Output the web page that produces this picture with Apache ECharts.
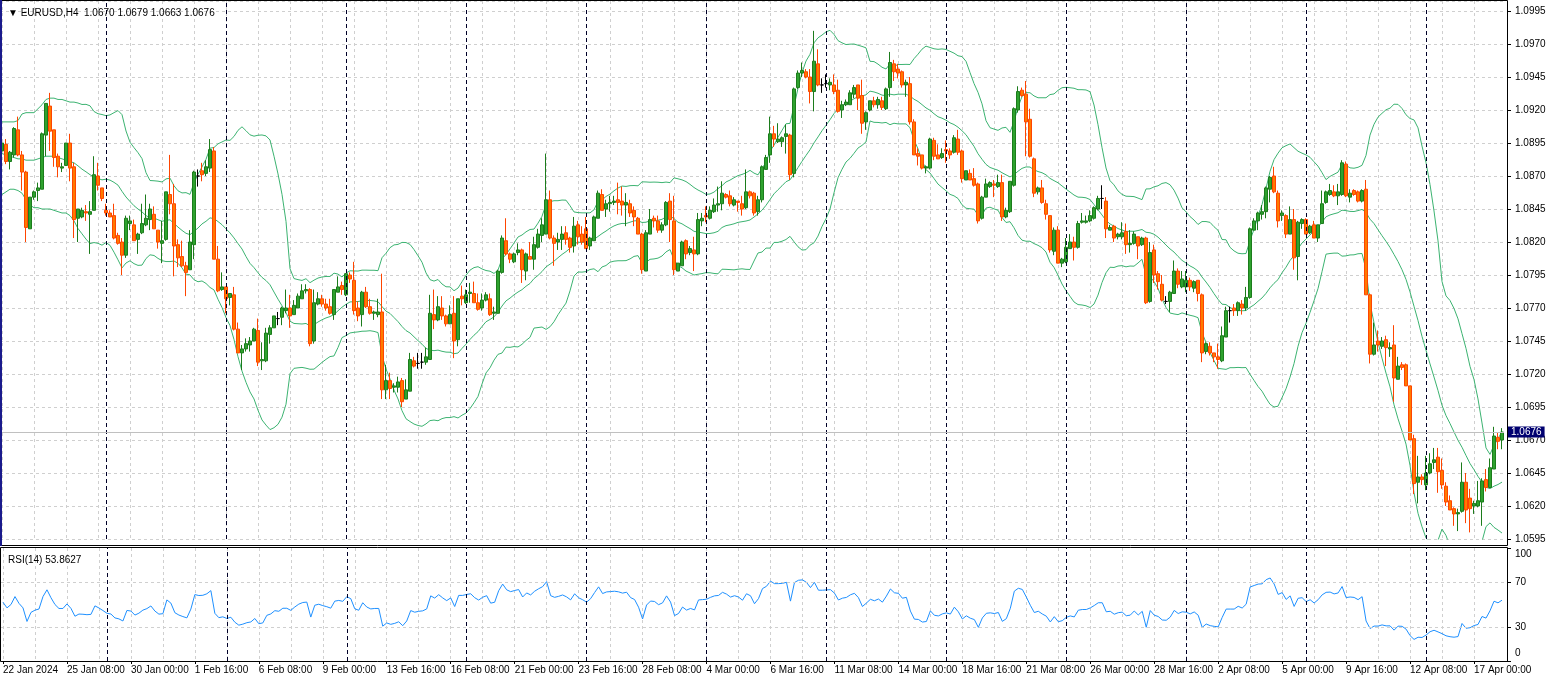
<!DOCTYPE html>
<html>
<head>
<meta charset="utf-8">
<title>EURUSD,H4</title>
<script src="https://cdn.jsdelivr.net/npm/echarts@6/dist/echarts.min.js"></script>
<style>
html, body { margin: 0; padding: 0; background: #fff; }
#main { width: 1552px; height: 680px; }
</style>
</head>
<body>
<div id="main"></div>
<script>
// H4 bars, one row per bar: [open, high, low, close] in pips above 1.0000
var ohlc = [
 [889,899,885,895],[894,898,879,881],[881,889,875,888],[886,907,884,906],[905,915,885,886],[886,889,859,873],[873,874,820,831],[830,854,830,854],
 [854,859,852,858],[859,865,851,861],[860,903,860,902],[901,925,885,925],[923,933,889,904],[905,905,877,884],[885,887,869,877],[876,880,873,877],
 [878,895,878,895],[895,902,866,876],[877,880,823,837],[838,845,820,845],[839,846,838,844],[843,848,836,842],[841,851,811,843],[844,885,844,871],
 [870,880,859,863],[861,861,851,853],[844,849,840,842],[842,844,839,839],[840,849,822,823],[825,827,818,819],[820,823,795,810],[810,840,808,838],
 [834,840,829,836],[833,837,821,821],[822,827,811,826],[827,849,826,834],[833,856,832,838],[837,849,829,845],[841,847,830,830],[829,829,815,820],
 [819,836,804,821],[822,858,821,858],[856,886,841,849],[849,864,794,817],[818,822,801,808],[809,821,801,802],[802,805,779,797],[799,829,799,820],
 [818,874,807,873],[870,875,862,870],[874,880,866,871],[872,882,870,877],[876,898,873,890],[889,892,807,807],[807,817,782,783],[784,797,783,786],
 [786,786,766,777],[778,781,772,781],[780,786,753,754],[754,759,736,736],[736,742,723,739],[739,747,737,743],[742,748,737,745],[745,755,745,754],
 [753,762,726,729],[730,744,723,731],[730,755,729,751],[750,757,743,755],[755,764,755,764],[762,767,757,762],[763,771,757,770],[768,784,766,770],
 [770,780,755,764],[765,776,765,772],[770,781,770,779],[777,788,777,783],[783,788,781,784],[784,785,741,743],[745,784,743,774],[773,782,772,777],
 [777,780,771,773],[773,777,768,770],[771,777,765,766],[765,784,761,784],[782,794,782,786],[787,790,780,784],[780,796,779,796],[795,797,789,792],
 [791,805,765,768],[770,775,760,764],[765,783,756,782],[782,786,770,771],[771,777,765,766],[766,768,761,767],[765,777,763,767],[767,796,701,708],
 [708,727,701,715],[715,721,701,709],[710,713,706,711],[710,718,706,714],[715,717,695,699],[701,716,701,708],[707,736,707,731],[730,733,725,726],
 [728,736,724,728],[729,736,724,729],[729,740,727,733],[731,780,731,766],[765,784,754,761],[761,779,760,771],[770,779,761,764],[764,765,756,758],
 [758,772,758,765],[766,779,732,745],[746,777,741,777],[779,787,772,777],[774,784,773,780],[781,789,774,782],[781,790,774,774],[774,781,768,769],
 [770,781,768,776],[776,782,775,780],[777,781,764,765],[766,771,761,767],[766,799,766,798],[797,825,796,823],[821,838,810,811],[811,812,804,807],
 [805,812,804,811],[812,819,810,814],[814,815,789,799],[798,812,791,811],[809,820,807,807],[807,824,799,818],[816,830,815,826],[825,838,820,833],
 [826,887,826,852],[852,859,822,823],[823,825,802,819],[820,827,814,822],[822,832,814,826],[827,832,818,822],[823,824,812,816],[817,839,812,832],
 [833,836,818,824],[826,832,818,820],[830,839,815,815],[817,824,814,823],[821,840,821,839],[838,859,838,857],[856,860,844,844],[845,852,839,849],
 [849,855,843,850],[850,855,848,851],[852,865,841,850],[851,862,840,848],[848,857,832,850],[849,852,839,842],[844,847,832,839],[838,839,826,826],
 [826,827,796,799],[798,829,798,827],[826,845,826,837],[838,840,831,836],[836,840,827,829],[829,835,827,833],[833,851,832,850],[851,857,820,837],
 [836,855,795,799],[798,804,798,804],[802,821,802,820],[821,822,807,811],[812,817,810,815],[814,824,798,811],[811,842,810,837],[836,842,832,838],
 [840,847,835,839],[838,847,837,844],[843,853,842,848],[848,862,843,849],[849,866,844,857],[856,857,853,854],[855,859,847,849],[848,854,847,852],
 [851,851,843,850],[849,855,840,845],[846,875,845,858],[858,859,853,855],[857,858,840,842],[843,855,840,852],[852,878,850,877],[875,886,875,884],
 [886,915,880,902],[902,908,892,898],[896,910,895,898],[896,900,892,899],[900,909,887,902],[901,902,867,871],[872,937,869,936],[937,950,936,948],
 [948,956,945,950],[949,951,944,945],[945,951,925,934],[934,980,919,957],[955,966,938,939],[939,944,933,939],[940,947,937,940],[939,944,935,941],
 [939,947,932,934],[935,943,918,919],[920,927,914,924],[924,928,923,926],[924,935,924,933],[932,939,929,937],[939,939,920,929],[931,943,902,910],
 [911,919,905,918],[920,927,919,927],[927,930,922,924],[924,930,921,928],[927,930,920,922],[921,937,920,936],[937,964,930,956],[955,958,942,949],
 [951,955,944,948],[949,950,937,939],[939,943,930,941],[940,945,909,911],[911,913,886,886],[887,891,878,885],[886,886,875,876],[876,878,872,877],
 [876,899,875,898],[897,899,882,885],[886,894,883,883],[884,891,883,887],[890,897,880,889],[889,891,883,886],[888,901,887,899],[898,905,886,888],
 [889,890,865,868],[867,874,867,874],[872,875,867,867],[868,876,862,863],[864,865,834,836],[838,855,837,854],[854,868,854,864],[862,866,861,865],
 [864,867,854,863],[862,871,861,865],[865,871,836,839],[839,846,838,844],[843,866,842,866],[863,922,862,921],[920,938,918,934],[935,937,930,931],
 [932,942,885,911],[913,921,884,885],[883,884,854,857],[858,862,856,861],[861,867,849,850],[849,852,837,841],[840,840,812,814],[813,831,810,829],
 [829,832,804,804],[804,808,801,807],[805,823,804,816],[815,826,815,820],[820,824,806,816],[816,836,815,834],[835,842,834,836],[835,840,834,836],
 [836,844,835,840],[838,847,837,846],[845,855,844,853],[853,863,845,853],[851,854,823,830],[829,833,829,831],[832,833,820,823],[824,827,822,826],
 [824,835,822,827],[828,834,811,818],[818,829,812,819],[819,828,818,826],[824,824,807,817],[818,824,817,823],[823,824,773,774],[775,820,774,812],
 [814,818,789,795],[796,798,784,790],[788,795,775,776],[775,779,773,775],[775,783,767,782],[781,806,781,798],[798,800,785,788],[786,798,785,792],
 [786,798,782,791],[791,793,783,786],[785,791,782,790],[791,791,775,781],[780,781,729,736],[737,744,735,743],[741,744,734,736],[736,736,729,733],
 [733,743,724,731],[730,756,729,749],[748,771,748,768],[768,771,759,768],[770,773,764,768],[768,775,764,774],[773,776,765,770],[770,786,768,778],
 [778,831,777,830],[829,838,829,836],[836,843,829,842],[841,848,837,843],[843,862,838,861],[860,870,850,869],[870,877,857,858],[857,859,831,836],
 [840,844,836,842],[840,841,823,826],[826,847,826,837],[837,845,799,808],[809,836,791,835],[834,838,830,837],[837,838,826,826],[827,833,826,832],
 [833,836,823,823],[823,833,820,833],[834,859,834,849],[850,859,849,858],[856,864,855,859],[858,863,854,855],[855,864,848,858],[856,882,855,880],
 [879,881,854,855],[854,860,850,857],[859,860,855,856],[858,859,850,851],[851,860,850,859],[860,867,780,780],[780,781,728,735],[735,759,734,742],
 [745,753,737,742],[741,748,739,745],[746,749,726,740],[739,744,733,740],[742,757,699,717],[716,733,716,726],[727,729,723,725],[727,728,711,711],
 [711,711,670,670],[671,674,629,637],[638,658,622,642],[642,644,636,640],[636,658,632,645],[645,660,644,652],[653,664,648,655],[657,664,630,646],
 [647,656,633,636],[635,638,620,623],[624,628,617,617],[618,619,605,614],[614,618,601,615],[616,653,615,638],[638,645,607,617],[626,633,600,618],
 [620,624,614,622],[620,639,619,624],[623,641,605,639],[640,648,631,634],[634,656,634,649],[648,680,648,673],[672,676,663,669],[670,679,663,676]
];

// Bollinger(20,2) for the first 19 bars (their history is off the picture), pips above 1.0000
var bbUpperHead = [911,911,911,911,912,917,918,918,918,921,924,928,929,929,928,928,927,926,926];
var bbMidHead   = [887,886,885,884,883,883,882,882,882,883,884,885,885,885,884,883,882,881,880];
var bbLowerHead = [856,858,860,860,859,857,852,848,846,846,845,845,845,844,843,842,842,840,836];

// RSI(14) for the first 14 bars
var rsiHead = [52,47,50,57,51,47,35,43,45,46,57,63,56,50];
var rsiLevels = [30, 70];
var rsiTicks = [0, 30, 70, 100];

// time scale: one label every 16 bars, week separators on Monday 00:00 bars
var timeLabels = ['22 Jan 2024','25 Jan 08:00','30 Jan 00:00','1 Feb 16:00','6 Feb 08:00','9 Feb 00:00',
  '13 Feb 16:00','16 Feb 08:00','21 Feb 00:00','23 Feb 16:00','28 Feb 08:00','4 Mar 00:00','6 Mar 16:00',
  '11 Mar 08:00','14 Mar 00:00','18 Mar 16:00','21 Mar 08:00','26 Mar 00:00','28 Mar 16:00','2 Apr 08:00',
  '5 Apr 00:00','9 Apr 16:00','12 Apr 08:00','17 Apr 00:00'];
var labelStep = 16;
var gridStep = 8;
var weekStarts = [26,56,86,116,146,176,206,236,266,296,326,356];

var header = '\u25BC EURUSD,H4  1.0670 1.0679 1.0663 1.0676';
var rsiHeader = 'RSI(14) 53.8627';
var bidPrice = 1.0676;

function px(p) { return +(1 + p / 10000).toFixed(4); }

var cats = ohlc.map(function (r, i) { return String(i); });
var candles = ohlc.map(function (r) { return [px(r[0]), px(r[3]), px(r[2]), px(r[1])]; });
var closes = ohlc.map(function (r) { return px(r[3]); });

// Bollinger bands from the closes (period 20, deviation 2)
var bbUp = [], bbMid = [], bbLo = [];
closes.forEach(function (c, i) {
    if (i < 19) {
        bbUp.push(px(bbUpperHead[i])); bbMid.push(px(bbMidHead[i])); bbLo.push(px(bbLowerHead[i]));
        return;
    }
    var w = closes.slice(i - 19, i + 1);
    var m = w.reduce(function (a, b) { return a + b; }, 0) / 20;
    var sd = Math.sqrt(w.reduce(function (a, b) { return a + (b - m) * (b - m); }, 0) / 20);
    bbMid.push(+m.toFixed(5)); bbUp.push(+(m + 2 * sd).toFixed(5)); bbLo.push(+(m - 2 * sd).toFixed(5));
});

// RSI(14) from the closes, Wilder smoothing
var rsi = rsiHead.slice();
var ag = 0, al = 0;
for (var i = 1; i <= 14; i++) {
    var d = closes[i] - closes[i - 1];
    ag += Math.max(d, 0); al += Math.max(-d, 0);
}
ag /= 14; al /= 14;
rsi.push(+(100 - 100 / (1 + ag / al)).toFixed(2));
for (var i = 15; i < closes.length; i++) {
    var d = closes[i] - closes[i - 1];
    ag = (ag * 13 + Math.max(d, 0)) / 14;
    al = (al * 13 + Math.max(-d, 0)) / 14;
    rsi.push(+(100 - 100 / (1 + ag / al)).toFixed(2));
}

var FONT = "'Liberation Sans', Arial, sans-serif";
var gridLine = { color: '#cfcfcf', type: [3, 3], width: 1 };
var sepLine = { color: '#000028', type: [4, 3], width: 1 };
var weekMarks = weekStarts.map(function (w) { return { xAxis: String(w), lineStyle: sepLine }; });

var myChart = echarts.init(document.getElementById('main'));
var option = {
    animation: false,
    backgroundColor: '#ffffff',
    textStyle: { fontFamily: FONT },
    title: [
        { text: header, left: 3, top: 3, textStyle: { fontSize: 10, fontWeight: 'normal', color: '#000', fontFamily: FONT } },
        { text: rsiHeader, left: 3, top: 550, textStyle: { fontSize: 10, fontWeight: 'normal', color: '#000', fontFamily: FONT } }
    ],
    grid: [
        { left: 0, top: 1, width: 1504, height: 538 },
        { left: 0, top: 548, width: 1504, height: 113 }
    ],
    xAxis: [
        {
            type: 'category', gridIndex: 0, data: cats, boundaryGap: true,
            axisLine: { show: false }, axisTick: { show: false }, axisLabel: { show: false },
            splitLine: { show: true, alignWithLabel: true, interval: function (i) { return i % gridStep === 0; }, lineStyle: gridLine }
        },
        {
            type: 'category', gridIndex: 1, data: cats, boundaryGap: true,
            axisLine: { show: false },
            axisTick: { show: true, alignWithLabel: true, length: 3, interval: function (i) { return i % labelStep === 0; }, lineStyle: { color: '#000' } },
            axisLabel: {
                interval: function (i) { return i % labelStep === 0; },
                formatter: function (v, i) { return timeLabels[i / labelStep] || ''; },
                align: 'left', margin: 4, fontSize: 10, color: '#000', fontFamily: FONT
            },
            splitLine: { show: true, alignWithLabel: true, interval: function (i) { return i % gridStep === 0; }, lineStyle: gridLine }
        }
    ],
    yAxis: [
        {
            type: 'value', gridIndex: 0, position: 'right', offset: 3,
            min: 1.0595, max: 1.10026, interval: 0.0025,
            axisLine: { show: false },
            axisTick: { show: true, length: 4, lineStyle: { color: '#000' } },
            axisLabel: { showMaxLabel: false, margin: 8, fontSize: 10, color: '#000', fontFamily: FONT,
                formatter: function (v) { return v.toFixed(4); } },
            splitLine: { show: true, lineStyle: gridLine }
        },
        {
            type: 'value', gridIndex: 1, position: 'right', offset: 3, min: 0, max: 100,
            axisLine: { show: false },
            axisTick: { show: true, length: 4, customValues: rsiTicks, lineStyle: { color: '#000' } },
            axisLabel: {
                customValues: rsiTicks, margin: 8, fontSize: 10, color: '#000', fontFamily: FONT,
                formatter: function (v) { return v === 100 ? '{t|100}' : (v === 0 ? '{b|0}' : String(v)); },
                rich: {
                    t: { padding: [12, 0, 0, 0], fontSize: 10, color: '#000', fontFamily: FONT },
                    b: { padding: [0, 0, 16, 0], fontSize: 10, color: '#000', fontFamily: FONT }
                }
            },
            splitLine: { show: false }
        }
    ],
    series: [
        {
            name: 'EURUSD', type: 'candlestick', xAxisIndex: 0, yAxisIndex: 0,
            data: candles, barWidth: 3,
            itemStyle: {
                color: '#2ea22e', color0: '#ff7a00',
                borderColor: '#1c7c1c', borderColor0: '#ff4500', borderColorDoji: '#000000',
                borderWidth: 1
            },
            markLine: {
                silent: true, symbol: ['none', 'none'], label: { show: false },
                data: weekMarks
            },
            z: 3
        },
        { name: 'BB upper', type: 'line', xAxisIndex: 0, yAxisIndex: 0, data: bbUp, symbol: 'none', silent: true,
          lineStyle: { color: '#3cb371', width: 1 }, z: 2 },
        {
            name: 'BB middle', type: 'line', xAxisIndex: 0, yAxisIndex: 0, data: bbMid, symbol: 'none', silent: true,
            lineStyle: { color: '#3cb371', width: 1 }, z: 2,
            markLine: {
                silent: true, symbol: ['none', 'none'], precision: 4,
                data: [{
                    yAxis: bidPrice, lineStyle: { color: '#c0c0c0', type: 'solid', width: 1 },
                    label: { show: true, position: 'end', distance: 4, formatter: bidPrice.toFixed(4),
                             color: '#fff', backgroundColor: '#000070', padding: [1, 3, 0, 3],
                             fontSize: 10, fontFamily: FONT }
                }]
            }
        },
        { name: 'BB lower', type: 'line', xAxisIndex: 0, yAxisIndex: 0, data: bbLo, symbol: 'none', silent: true,
          lineStyle: { color: '#3cb371', width: 1 }, z: 2 },
        {
            name: 'RSI(14)', type: 'line', xAxisIndex: 1, yAxisIndex: 1, data: rsi, symbol: 'none', silent: true,
            lineStyle: { color: '#1e90ff', width: 1 },
            markLine: {
                silent: true, symbol: ['none', 'none'], label: { show: false },
                data: weekMarks.concat(rsiLevels.map(function (l) { return { yAxis: l, lineStyle: gridLine }; }))
            }
        }
    ],
    graphic: [
        { type: 'rect', silent: true, z: 100, shape: { x: 0.5, y: 0.5, width: 1507, height: 545 },
          style: { fill: 'none', stroke: '#000', lineWidth: 1 } },
        { type: 'rect', silent: true, z: 100, shape: { x: 0.5, y: 547.5, width: 1507, height: 114 },
          style: { fill: 'none', stroke: '#000', lineWidth: 1 } },
        { type: 'line', silent: true, z: 101, shape: { x1: 1, y1: 0, x2: 1, y2: 546 },
          style: { stroke: '#1a1a8c', lineWidth: 2 } }
    ]
};
myChart.setOption(option);
</script>
</body>
</html>
